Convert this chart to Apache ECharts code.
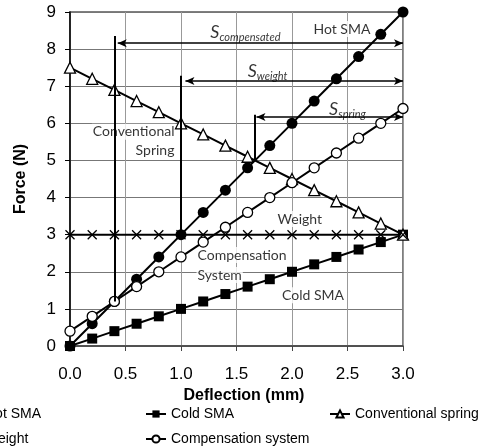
<!DOCTYPE html>
<html>
<head>
<meta charset="utf-8">
<script src="https://cdn.jsdelivr.net/npm/echarts@6/dist/echarts.min.js"></script>
<style>
  html, body { margin: 0; padding: 0; background: #fff; }
  #chart { width: 483px; height: 448px; }
</style>
</head>
<body>
<div id="chart"></div>
<script>
// deflection (mm) and force (N)
const deflection = [0, 0.2, 0.4, 0.6, 0.8, 1.0, 1.2, 1.4, 1.6, 1.8, 2.0, 2.2, 2.4, 2.6, 2.8, 3.0];
const hotSMA     = [0, 0.6, 1.2, 1.8, 2.4, 3.0, 3.6, 4.2, 4.8, 5.4, 6.0, 6.6, 7.2, 7.8, 8.4, 9.0];
const coldSMA    = [0, 0.2, 0.4, 0.6, 0.8, 1.0, 1.2, 1.4, 1.6, 1.8, 2.0, 2.2, 2.4, 2.6, 2.8, 3.0];
const convSpring = [7.5, 7.2, 6.9, 6.6, 6.3, 6.0, 5.7, 5.4, 5.1, 4.8, 4.5, 4.2, 3.9, 3.6, 3.3, 3.0];
const weight     = [3, 3, 3, 3, 3, 3, 3, 3, 3, 3, 3, 3, 3, 3, 3, 3];
const compSystem = [0.4, 0.8, 1.2, 1.6, 2.0, 2.4, 2.8, 3.2, 3.6, 4.0, 4.4, 4.8, 5.2, 5.6, 6.0, 6.4];

// vertical guides: [x, yFrom, yTo]
const guides = [[0.4, 1.2, 8.35], [1.0, 3.0, 7.28], [1.667, 5.0, 6.23]];
// stroke arrows: [xFrom, xTo, y]
const spans = [[0.43, 3.0, 8.16], [1.04, 3.0, 7.14], [1.68, 3.0, 6.17]];

// text notes: [x, y, text, align, boxed]
const notes = [
  [1.58, 8.44, '{s|S}{b|compensated}', 'center', false],
  [2.45, 8.54, 'Hot SMA', 'center', true],
  [1.78, 7.38, '{s|S}{b|weight}', 'center', false],
  [2.50, 6.35, '{s|S}{b|spring}', 'center', false],
  [0.95, 5.77, 'Conventional', 'right', true],
  [0.95, 5.28, 'Spring', 'right', true],
  [2.07, 3.42, 'Weight', 'center', true],
  [1.14, 2.45, 'Compensation', 'left', true],
  [1.14, 1.91, 'System', 'left', true],
  [2.19, 1.37, 'Cold SMA', 'center', true]
];

const pairs = ys => deflection.map((x, i) => [x, ys[i]]);

const line = (name, ys, symbol, size, filled) => ({
  name, type: 'line', data: pairs(ys), z: 3,
  symbol, symbolSize: size, showAllSymbol: true, clip: false,
  lineStyle: { color: '#000', width: 2 },
  itemStyle: { color: filled ? '#000' : '#fff', borderColor: '#000', borderWidth: filled ? 0 : 1.3 },
  emphasis: { disabled: true }
});

const legendAt = (name, left, top) => ({
  data: [name], left, top, itemWidth: 20, itemHeight: 9,
  selectedMode: false,
  textStyle: { fontFamily: 'Liberation Sans', fontSize: 14, color: '#000' }
});

const chart = echarts.init(document.getElementById('chart'));

chart.setOption({
  animation: false,
  backgroundColor: '#fff',
  grid: { left: 70, right: 80, top: 12, bottom: 102, show: true, borderColor: '#555', borderWidth: 1.5 },
  xAxis: {
    type: 'value', min: 0, max: 3, interval: 0.5,
    name: 'Deflection (mm)', nameLocation: 'middle', nameGap: 42,
    nameTextStyle: { fontFamily: 'Liberation Sans', fontWeight: 'bold', fontSize: 16, color: '#000', padding: [0, 0, 0, 15] },
    axisLine: { onZero: false, lineStyle: { color: '#444', width: 1.5 } },
    axisTick: { show: true, length: 5, lineStyle: { color: '#444' } },
    axisLabel: { fontFamily: 'Liberation Sans', fontSize: 17, color: '#000', margin: 20, formatter: v => v.toFixed(1) },
    splitLine: { show: true, lineStyle: { color: '#999', width: 1 } }
  },
  yAxis: {
    type: 'value', min: 0, max: 9, interval: 1,
    name: 'Force (N)', nameLocation: 'middle', nameGap: 41,
    nameTextStyle: { fontFamily: 'Liberation Sans', fontWeight: 'bold', fontSize: 16, color: '#000' },
    axisLine: { show: true, lineStyle: { color: '#000', width: 1.5 } },
    axisTick: { show: true, length: 5, lineStyle: { color: '#000' } },
    axisLabel: { fontFamily: 'Liberation Sans', fontSize: 17, color: '#000', margin: 14 },
    splitLine: { show: true, lineStyle: { color: '#777', width: 1 } }
  },
  legend: [
    legendAt('Hot SMA', -46, 402),
    legendAt('Cold SMA', 140, 402),
    legendAt('Conventional spring', 324, 402),
    legendAt('Weight', -46, 427),
    legendAt('Compensation system', 140, 427)
  ],
  series: [
    {
      name: 'guides', type: 'line', data: [], z: 1, silent: true,
      markLine: {
        silent: true, animation: false,
        symbol: ['none', 'none'],
        label: { show: false },
        lineStyle: { color: '#000', width: 2, type: 'solid' },
        data: guides.map(g => [{ coord: [g[0], g[1]] }, { coord: [g[0], g[2]] }])
      }
    },
    {
      name: 'spans', type: 'line', data: [], z: 1, silent: true,
      markLine: {
        silent: true, animation: false,
        symbol: ['arrow', 'arrow'], symbolSize: [6, 9],
        label: { show: false },
        lineStyle: { color: '#000', width: 1.5, type: 'solid' },
        data: spans.map(s => [{ coord: [s[0], s[2]] }, { coord: [s[1], s[2]] }])
      }
    },
    {
      name: 'notes', type: 'scatter', z: 2, silent: true, symbolSize: 0,
      data: notes.map(n => ({
        value: [n[0], n[1]],
        label: {
          show: true, position: 'inside', formatter: n[2], align: n[3],
          backgroundColor: n[4] ? '#fff' : 'transparent', padding: [1, 1],
          fontFamily: 'Lato', fontSize: 14, color: '#000',
          rich: {
            s: { fontFamily: 'Lato', fontStyle: 'italic', fontSize: 18, color: '#000', padding: [0, 0, 2, 0], verticalAlign: 'bottom' },
            b: { fontFamily: 'Lato', fontStyle: 'italic', fontSize: 11, color: '#000', verticalAlign: 'bottom' }
          }
        }
      }))
    },
    line('Hot SMA', hotSMA, 'circle', 11, true),
    line('Cold SMA', coldSMA, 'rect', 10, true),
    line('Conventional spring', convSpring, 'triangle', 11, false),
    line('Weight', weight, 'path://M0,0L10,10M10,0L0,10', 9, false),
    line('Compensation system', compSystem, 'circle', 10, false)
  ]
});
</script>
</body>
</html>
